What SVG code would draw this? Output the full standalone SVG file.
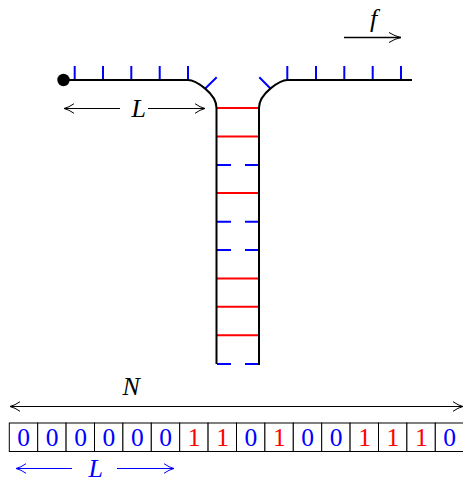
<svg xmlns="http://www.w3.org/2000/svg" width="463" height="477" viewBox="0 0 463 477">
<style>
text{font-family:"Liberation Serif","Times New Roman",serif}
.i{font-style:italic;font-size:26px;fill:#000}
.d{font-size:25.500px;text-anchor:middle}
.b{fill:#00f}.r{fill:#f00}
.w{fill:none;stroke:#000;stroke-width:2}
.t{fill:none;stroke:#00f;stroke-width:2}
.q{fill:none;stroke:#f00;stroke-width:2}
.a{fill:none;stroke:#000;stroke-width:1.200}
.c{fill:#fff;stroke:#000;stroke-width:1}
.u{fill:none;stroke:#00f;stroke-width:1.200}
</style>
<defs>
<marker id="ah" markerUnits="userSpaceOnUse" markerWidth="12" markerHeight="12" refX="11" refY="6" orient="auto-start-reverse"><path d="M1 1.200Q6 4.800 11 6Q6 7.200 1 10.800" fill="none" stroke="#000" stroke-width="1"/></marker>
<marker id="ahf" markerUnits="userSpaceOnUse" markerWidth="14" markerHeight="14" refX="13" refY="7" orient="auto"><path d="M1 2Q7 5.800 13 7Q7 8.200 1 12" fill="none" stroke="#000" stroke-width="1"/></marker>
<marker id="ahb" markerUnits="userSpaceOnUse" markerWidth="12" markerHeight="12" refX="11" refY="6" orient="auto-start-reverse"><path d="M1 1.200Q6 4.800 11 6Q6 7.200 1 10.800" fill="none" stroke="#00f" stroke-width="1"/></marker>
</defs>
<g id="rungs">
<path class="q" d="M217 108H259M217 136.500H259M217 193H259M217 278.500H259M217 306.700H259M217 335.300H259"/>
<path class="t" d="M217 165H231M245 165H259M217 221.700H231M245 221.700H259M217 250H231M245 250H259M217 364H231M245 364H259"/>
</g>
<g id="teeth">
<path class="t" d="M74.700 66V80M103 66V80M131.300 66V80M159.700 66V80M188 66V80M205 88.700L216.700 77.300"/>
<path class="t" d="M270.700 88.700L259.300 77.300M287.300 66V80M316 66V80M344.300 66V80M372.700 66V80M401 66V80"/>
</g>
<g id="channel">
<path class="w" d="M63.500 80H188C195 80 216.500 93 216.500 108V364"/>
<path class="w" d="M259 365V108C259 93 280.500 80 287.500 80H412"/>
<circle cx="63.500" cy="80" r="6.200" fill="#000"/>
</g>
<g id="connectors">
<path class="a" d="M64 108.500H120" marker-start="url(#ah)"/>
<path class="a" d="M148 108.500H205" marker-end="url(#ah)"/>
<path class="a" d="M344 37.500H401" marker-end="url(#ahf)" style="stroke-width:1.600"/>
<path class="a" d="M10 406.500H463" marker-start="url(#ah)" marker-end="url(#ah)"/>
<path class="u" d="M16 468.500H72" marker-start="url(#ahb)"/>
<path class="u" d="M117 468.500H174" marker-end="url(#ahb)"/>
</g>
<g id="labels">
<text class="i" x="131.500" y="117">L</text>
<text class="i" x="370" y="27">f</text>
<text class="i" x="122.500" y="395">N</text>
<text class="i" x="88.500" y="476.500" style="fill:#00f">L</text>
</g>
<g id="cells">
<rect class="c" x="9.300" y="423" width="28.400" height="28.500"/>
<rect class="c" x="37.700" y="423" width="28.400" height="28.500"/>
<rect class="c" x="66.100" y="423" width="28.400" height="28.500"/>
<rect class="c" x="94.500" y="423" width="28.400" height="28.500"/>
<rect class="c" x="122.900" y="423" width="28.400" height="28.500"/>
<rect class="c" x="151.300" y="423" width="28.400" height="28.500"/>
<rect class="c" x="179.700" y="423" width="28.400" height="28.500"/>
<rect class="c" x="208.100" y="423" width="28.400" height="28.500"/>
<rect class="c" x="236.500" y="423" width="28.400" height="28.500"/>
<rect class="c" x="264.900" y="423" width="28.400" height="28.500"/>
<rect class="c" x="293.300" y="423" width="28.400" height="28.500"/>
<rect class="c" x="321.700" y="423" width="28.400" height="28.500"/>
<rect class="c" x="350.100" y="423" width="28.400" height="28.500"/>
<rect class="c" x="378.500" y="423" width="28.400" height="28.500"/>
<rect class="c" x="406.900" y="423" width="28.400" height="28.500"/>
<rect class="c" x="435.300" y="423" width="28.400" height="28.500"/>
<text class="d b" x="23.700" y="446">0</text>
<text class="d b" x="52.100" y="446">0</text>
<text class="d b" x="80.500" y="446">0</text>
<text class="d b" x="108.900" y="446">0</text>
<text class="d b" x="137.300" y="446">0</text>
<text class="d b" x="165.700" y="446">0</text>
<text class="d r" x="194.100" y="446">1</text>
<text class="d r" x="222.500" y="446">1</text>
<text class="d b" x="250.900" y="446">0</text>
<text class="d r" x="279.300" y="446">1</text>
<text class="d b" x="307.700" y="446">0</text>
<text class="d b" x="336.100" y="446">0</text>
<text class="d r" x="364.500" y="446">1</text>
<text class="d r" x="392.900" y="446">1</text>
<text class="d r" x="421.300" y="446">1</text>
<text class="d b" x="449.700" y="446">0</text>
</g>
</svg>
